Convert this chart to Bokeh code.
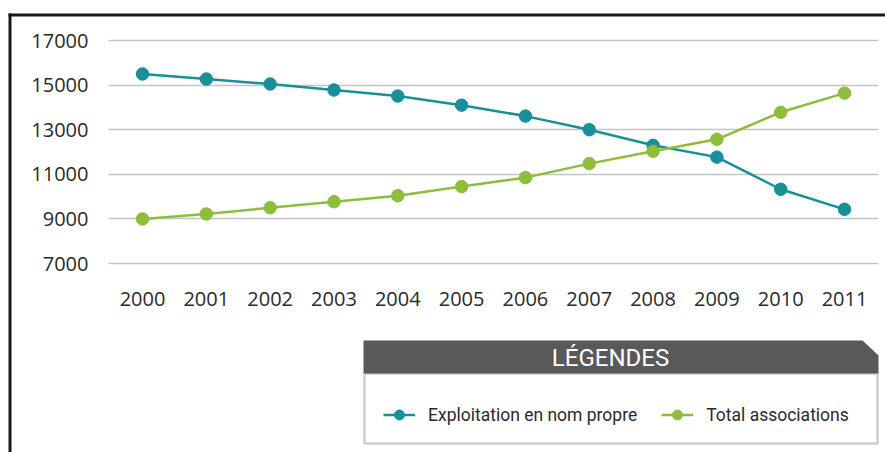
from bokeh.plotting import figure
from bokeh.models import (Range1d, FixedTicker, Legend, LegendItem, BoxAnnotation,
                          PolyAnnotation, Label)
from bokeh.embed import file_html
from bokeh.resources import INLINE

years = [2000, 2001, 2002, 2003, 2004, 2005, 2006, 2007, 2008, 2009, 2010, 2011]
exploitation = [15500, 15270, 15050, 14780, 14510, 14100, 13610, 13000, 12300, 11770, 10330, 9430]
associations = [9000, 9220, 9500, 9770, 10040, 10450, 10850, 11480, 12030, 12570, 13780, 14640]
y_ticks = [7000, 9000, 11000, 13000, 15000, 17000]
name_expl = "Exploitation en nom propre"
name_assoc = "Total associations"
legend_title = "LÉGENDES"

TEAL = "#17909a"
GREEN = "#8dbd3b"

W, H = 885, 452
p = figure(width=W, height=H, output_backend="svg", toolbar_location=None,
           x_range=Range1d(1997.775, 2011.642), y_range=Range1d(-1475, 18794),
           min_border=0)
p.outline_line_color = None
p.xgrid.grid_line_color = None
p.ygrid.grid_line_color = None

# y axis drawn inside the canvas; its inward ticks form the horizontal grid
p.yaxis.fixed_location = 1999.467
p.yaxis.level = "underlay"
p.yaxis.ticker = FixedTicker(ticks=y_ticks)
p.yaxis.axis_line_color = None
p.yaxis.major_tick_out = 0
p.yaxis.major_tick_in = 770
p.yaxis.major_tick_line_color = "#c4c4c4"
p.yaxis.major_tick_line_width = 1.3
p.yaxis.major_label_standoff = 20

p.xaxis.fixed_location = 6417
p.xaxis.ticker = FixedTicker(ticks=years)
p.xaxis.axis_line_color = None
p.xaxis.major_tick_out = 0
p.xaxis.major_tick_in = 0
p.xaxis.major_tick_line_color = None
p.xaxis.major_label_standoff = 15

for ax in (p.xaxis, p.yaxis):
    ax.minor_tick_line_color = None
    ax.major_label_text_font = "Open Sans"
    ax.major_label_text_font_size = "20px"
    ax.major_label_text_color = "#2a2a2a"

l1 = p.line(years, exploitation, line_color=TEAL, line_width=2.5)
s1 = p.scatter(years, exploitation, size=12.5, fill_color=TEAL, line_color=TEAL)
l2 = p.line(years, associations, line_color=GREEN, line_width=2.5)
s2 = p.scatter(years, associations, size=12.5, fill_color=GREEN, line_color=GREEN)

SCR = dict(left_units="screen", right_units="screen", top_units="screen", bottom_units="screen")

# page frame lines (top and left)
p.add_layout(BoxAnnotation(left=8, right=885, top=439, bottom=436, **SCR,
                           fill_color="#1a1a1a", fill_alpha=1, line_color=None))
p.add_layout(BoxAnnotation(left=8, right=11, top=439, bottom=0, **SCR,
                           fill_color="#1a1a1a", fill_alpha=1, line_color=None))

# legend panel
p.add_layout(BoxAnnotation(left=364, right=877, top=79, bottom=9, **SCR,
                           fill_color="white", fill_alpha=1,
                           line_color="#5f5f5f", line_width=2.5))
p.add_layout(PolyAnnotation(xs=[363, 862, 878, 878, 363], ys=[112, 112, 97, 79, 79],
                            xs_units="screen", ys_units="screen",
                            fill_color="#595959", fill_alpha=1, line_color=None))
p.add_layout(Label(x=610, y=95, x_units="screen", y_units="screen", text=legend_title,
                   text_align="center", text_baseline="middle", text_color="white",
                   text_font="Roboto", text_font_size="24px"))

legend = Legend(items=[LegendItem(label=name_expl, renderers=[l1, s1]),
                       LegendItem(label=name_assoc, renderers=[l2, s2])],
                location=(383, 25), orientation="horizontal",
                margin=0, padding=0, spacing=24, label_standoff=13,
                glyph_width=32, glyph_height=25,
                border_line_color=None, background_fill_alpha=0,
                label_text_font="Roboto", label_text_font_size="17.5px",
                label_text_color="#2a2a2a")
p.add_layout(legend)

open("out.html", "w").write(file_html(p, INLINE))
